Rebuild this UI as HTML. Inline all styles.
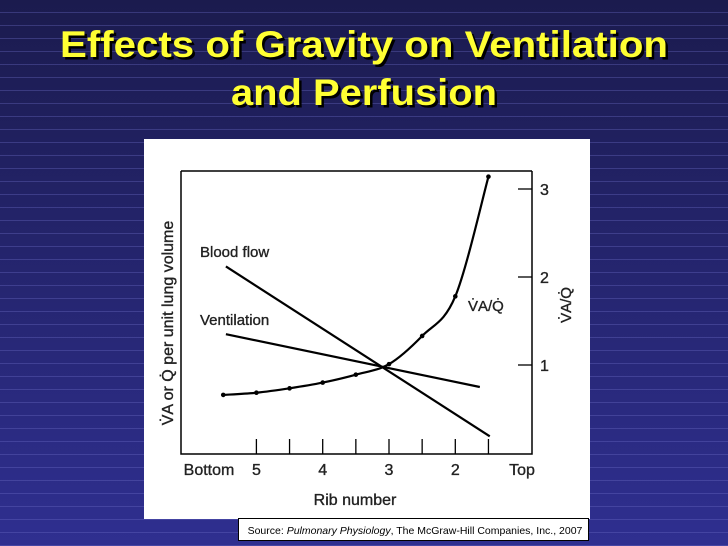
<!DOCTYPE html>
<html><head><meta charset="utf-8"><style>
html,body{margin:0;padding:0;width:728px;height:546px;overflow:hidden;}
body{background:repeating-linear-gradient(to bottom,transparent 0,transparent 12px,rgba(110,110,200,0.35) 12px,rgba(110,110,200,0.35) 13px),linear-gradient(to bottom,#1b1b4e,#2f2f90);}
svg{position:absolute;left:0;top:0;font-family:"Liberation Sans",sans-serif;}
</style></head><body>
<svg width="728" height="546" viewBox="0 0 728 546">
<g font-weight="bold" font-size="37" text-anchor="middle">
<text x="366.5" y="59.5" fill="#000" textLength="608" lengthAdjust="spacingAndGlyphs">Effects of Gravity on Ventilation</text>
<text x="364" y="57" fill="#ffff33" textLength="608" lengthAdjust="spacingAndGlyphs">Effects of Gravity on Ventilation</text>
<text x="366.5" y="107.5" fill="#000" textLength="266" lengthAdjust="spacingAndGlyphs">and Perfusion</text>
<text x="364" y="105" fill="#ffff33" textLength="266" lengthAdjust="spacingAndGlyphs">and Perfusion</text>
</g>
<rect x="144" y="139" width="446" height="380" fill="#fff"/>
<rect x="238.5" y="518.5" width="350" height="22" fill="#fff" stroke="#000"/>
<text x="415" y="534" font-size="10.5" text-anchor="middle">Source: <tspan font-style="italic">Pulmonary Physiology</tspan>, The McGraw-Hill Companies, Inc., 2007</text>
<g id="chart" fill="none" stroke="#000"></g>
<g fill="#222" stroke="#222" stroke-width="0.35">
<text x="355" y="505" font-size="16" text-anchor="middle">Rib number</text>
<text transform="translate(173,323) rotate(-90)" font-size="16" text-anchor="middle">V̇A or Q̇ per unit lung volume</text>
<text transform="translate(571,305) rotate(-90)" font-size="15" text-anchor="middle">V̇A/Q̇</text>
<text x="200" y="257" font-size="15">Blood flow</text>
<text x="200" y="325" font-size="15">Ventilation</text>
<text x="468" y="311" font-size="15">V̇A/Q̇</text>
</g>
</svg>
<script>
const ribTicks=[5,4.5,4,3.5,3,2.5,2,1.5];
const ribLabels=["5","4","3","2"];
const ribLabelVals=[5,4,3,2];
const ratioTicks=[1,2,3];
const vaqRibs=[5.5,5,4.5,4,3.5,3,2.5,2,1.5];
const vaqValues=[0.66,0.685,0.735,0.80,0.89,1.01,1.33,1.78,3.14];
const bloodRibs=[5.46,1.48];
const bloodValues=[2.12,0.19];
const ventRibs=[5.46,1.63];
const ventValues=[1.35,0.75];
const NS="http://www.w3.org/2000/svg";
const X=r=>389+(3-r)*66.3;
const Y=v=>453-v*88;
const g=document.getElementById('chart');
function mk(t,a){const e=document.createElementNS(NS,t);for(const k in a)e.setAttribute(k,a[k]);g.appendChild(e);return e;}
const frame=mk('path',{d:'M181,171 V454 H532 V171 M181,171 H532','stroke-width':1.5});


ribTicks.forEach(r=>{const t=mk('line',{x1:X(r),x2:X(r),y1:439,y2:454,'stroke-width':1.3});

});
ribLabelVals.forEach((r,i)=>{const t=mk('text',{x:X(r),y:475,'font-size':16,'text-anchor':'middle',fill:'#222',stroke:'#222','stroke-width':0.35});t.textContent=ribLabels[i];

});
[['Bottom',209],['Top',522]].forEach(([s,x])=>{const t=mk('text',{x:x,y:475,'font-size':16,'text-anchor':'middle',fill:'#222',stroke:'#222','stroke-width':0.35});t.textContent=s;

});
ratioTicks.forEach(v=>{const l=mk('line',{x1:518,x2:532,y1:Y(v),y2:Y(v),'stroke-width':1.3});


const t=mk('text',{x:540,y:Y(v)+6,'font-size':16,fill:'#222',stroke:'#222','stroke-width':0.35});t.textContent=v;

});
function line(rs,vs,name){const p=mk('polyline',{points:rs.map((r,i)=>X(r)+','+Y(vs[i])).join(' '),'stroke-width':2.2});

}
line(bloodRibs,bloodValues,'blood-flow-line');
line(ventRibs,ventValues,'ventilation-line');
const pts=vaqRibs.map((r,i)=>[X(r),Y(vaqValues[i])]);
let d='M'+pts[0];
for(let i=0;i<pts.length-1;i++){const p0=pts[i-1]||pts[i],p1=pts[i],p2=pts[i+1],p3=pts[i+2]||p2;
d+=` C${p1[0]+(p2[0]-p0[0])/6},${p1[1]+(p2[1]-p0[1])/6} ${p2[0]-(p3[0]-p1[0])/6},${p2[1]-(p3[1]-p1[1])/6} ${p2[0]},${p2[1]}`;}
const c=mk('path',{d:d,'stroke-width':2.2});


pts.forEach(p=>{const e=mk('circle',{cx:p[0],cy:p[1],r:2.3,fill:'#000',stroke:'none'});

});
</script>
</body></html>
